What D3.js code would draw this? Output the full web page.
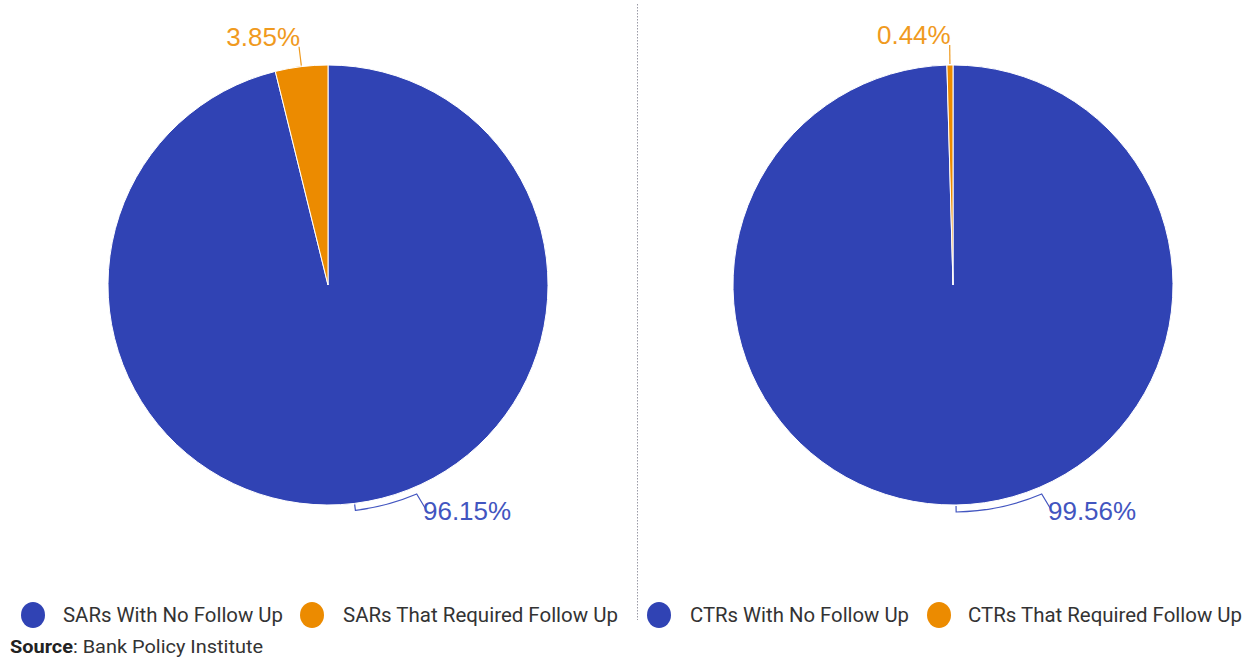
<!DOCTYPE html>
<html>
<head>
<meta charset="utf-8">
<script src="https://cdn.jsdelivr.net/npm/d3@7"></script>
<style>
  html, body { margin: 0; padding: 0; background: #fff; }
  svg { display: block; font-family: Roboto, "Noto Sans", sans-serif; }
</style>
</head>
<body>
<svg id="chart" width="1252" height="658"></svg>
<script>
// ---- data ----
const sarCategories = ["SARs With No Follow Up", "SARs That Required Follow Up"];
const sarValues = [96.15, 3.85];
const ctrCategories = ["CTRs With No Follow Up", "CTRs That Required Follow Up"];
const ctrValues = [99.56, 0.44];
const sourceLabel = "Bank Policy Institute";

const colors = ["#3043b4", "#ec8b00"];
const labelColors = ["#4255c0", "#f09a1e"];

const svg = d3.select("#chart");
const R = 220;

// divider
svg.append("line")
  .attr("x1", 637.5).attr("x2", 637.5)
  .attr("y1", 4).attr("y2", 620)
  .attr("stroke", "#9a9aa6").attr("stroke-width", 1)
  .attr("stroke-dasharray", "1.5,1.5");

function drawPie(cx, cy, values) {
  const g = svg.append("g").attr("transform", `translate(${cx},${cy})`);
  const pie = d3.pie().sort(null).value(d => d);
  const arcs = pie(values);
  const arc = d3.arc().innerRadius(0).outerRadius(R);
  g.selectAll("path.slice").data(arcs).enter().append("path")
    .attr("class", "slice")
    .attr("d", arc)
    .attr("fill", (d, i) => colors[i])
    .attr("stroke", "#fff").attr("stroke-width", 1);

  const pt = (a, r) => [r * Math.sin(a), -r * Math.cos(a)];

  arcs.forEach((d, i) => {
    const mid = (d.startAngle + d.endAngle) / 2;
    const txt = d3.format(".2f")(d.data) + "%";
    if (i === 0) {
      const endA = Math.PI * (157 / 180);
      const r1 = R + 7;
      const p0 = pt(mid, R + 1);
      const p1 = pt(mid, r1);
      const p3 = pt(endA - 0.01, R + 25);
      const path = d3.path();
      path.moveTo(p0[0], p0[1]);
      path.lineTo(p1[0], p1[1]);
      path.arc(0, 0, r1, mid - Math.PI / 2, endA - Math.PI / 2, true);
      path.lineTo(p3[0], p3[1]);
      g.append("path").attr("d", path.toString())
        .attr("fill", "none").attr("stroke", labelColors[0]).attr("stroke-width", 1.2);
      g.append("text")
        .attr("x", p3[0] - 3).attr("y", p3[1] + 10)
        .attr("fill", labelColors[0])
        .attr("font-family", "'Liberation Sans', Arial, sans-serif")
        .attr("font-size", 26)
        .text(txt);
    } else {
      const p0 = pt(mid, R + 1);
      const p1 = pt(mid, R + 20);
      g.append("line")
        .attr("x1", p0[0]).attr("y1", p0[1])
        .attr("x2", p1[0]).attr("y2", p1[1])
        .attr("stroke", labelColors[1]).attr("stroke-width", 1.2);
      g.append("text")
        .attr("x", p1[0] + 1).attr("y", p1[1] - 1)
        .attr("text-anchor", "end")
        .attr("fill", labelColors[1])
        .attr("font-family", "'Liberation Sans', Arial, sans-serif")
        .attr("font-size", 26)
        .text(txt);
    }
  });
}

drawPie(328, 285, sarValues);
drawPie(953, 285, ctrValues);

// legend
function legend(items, xs) {
  items.forEach((name, i) => {
    const x = xs[i];
    svg.append("ellipse")
      .attr("cx", x.c).attr("cy", 615)
      .attr("rx", 12).attr("ry", 13)
      .attr("fill", colors[i]);
    svg.append("text")
      .attr("x", x.t).attr("y", 622)
      .attr("font-size", 20)
      .attr("fill", "#333")
      .attr("textLength", x.w)
      .attr("lengthAdjust", "spacingAndGlyphs")
      .text(name);
  });
}
legend(sarCategories, [{c: 33, t: 63, w: 220}, {c: 312, t: 343, w: 275}]);
legend(ctrCategories, [{c: 659, t: 690, w: 219}, {c: 939, t: 968, w: 274}]);

// source
const src = svg.append("text")
  .attr("x", 10).attr("y", 653)
  .attr("font-size", 18)
  .attr("fill", "#333")
  .attr("textLength", 253)
  .attr("lengthAdjust", "spacingAndGlyphs");
src.append("tspan").attr("font-weight", "bold").attr("fill", "#222").text("Source");
src.append("tspan").text(": " + sourceLabel);
</script>
</body>
</html>
